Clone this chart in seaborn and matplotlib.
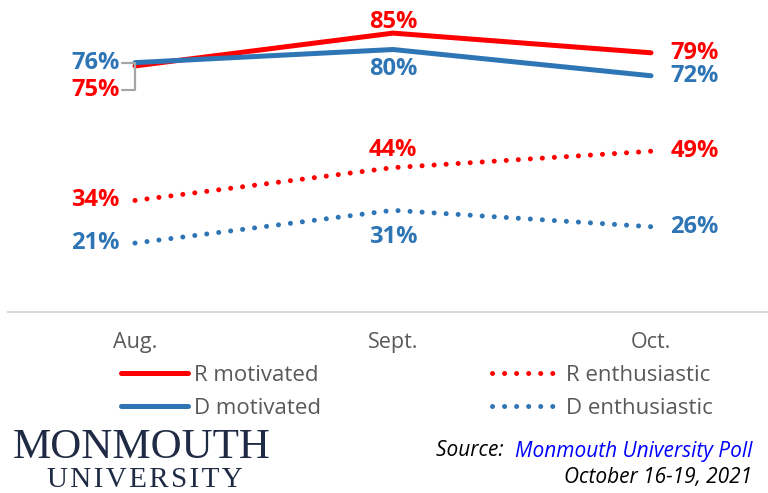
#! /usr/bin/env python3

import matplotlib
matplotlib.use('Agg')

import matplotlib.pyplot as plt
import matplotlib.transforms as mtrans
import numpy as np
import pandas as pd
import seaborn as sns

months = ['Aug.', 'Sept.', 'Oct.']
r_motivated = [75, 85, 79]
d_motivated = [76, 80, 72]
r_enthusiastic = [34, 44, 49]
d_enthusiastic = [21, 31, 26]

RED = '#FF0000'
BLUE = '#2E75B6'
GRAY = '#595959'

series = {
    'R motivated': (r_motivated, RED, '-'),
    'D motivated': (d_motivated, BLUE, '-'),
    'R enthusiastic': (r_enthusiastic, RED, (0, (0.01, 2.4))),
    'D enthusiastic': (d_enthusiastic, BLUE, (0, (0.01, 2.4))),
}

# where the middle (Sept.) label goes, in points relative to the point
mid_offset = {
    'R motivated': 8,
    'D motivated': -14,
    'R enthusiastic': 12.5,
    'D enthusiastic': -19,
}
# left (Aug.) label vertical nudge in points
left_nudge = {'R motivated': -17.5}

rows = []
for name, (vals, _, _) in series.items():
    for i, (m, v) in enumerate(zip(months, vals)):
        rows.append({'series': name, 'pos': i, 'month': m, 'value': v})
data = pd.DataFrame(rows)

sns.set_theme(style='white')
plt.rcParams['font.family'] = ['Open Sans', 'DejaVu Sans']

fig = plt.figure(figsize=(7.68, 4.93), dpi=100)
W, H = 768, 493
ax = fig.add_axes([8 / W, (H - 312) / H, 1 - 8 / W, 311.7 / H])

for name, (vals, color, ls) in series.items():
    sub = data[data['series'] == name]
    sns.lineplot(data=sub, x='pos', y='value', color=color, linestyle=ls,
                 linewidth=3.6, dash_capstyle='round',
                 solid_capstyle='round', ax=ax, sort=False)

ax.set_xlim((8 - 135) / 258, (768 - 135) / 258)
ax.set_ylim(0, 95)
ax.set_xticks(np.arange(len(months)))
ax.set_xticklabels(months, fontsize=15.5, color=GRAY)
ax.set_yticks([])
ax.set_xlabel('')
ax.set_ylabel('')
ax.tick_params(axis='x', length=0, pad=14.5)
for s in ['top', 'left', 'right']:
    ax.spines[s].set_visible(False)
ax.spines['bottom'].set_color('#D9D9D9')
ax.spines['bottom'].set_linewidth(1.5)

# value labels
lab_kw = dict(fontsize=17, fontweight='bold', textcoords='offset points')
for name, (vals, color, _) in series.items():
    ax.annotate(f'{vals[0]}%', (0, vals[0]), xytext=(-11, left_nudge.get(name, 0)),
                ha='right', va='center', color=color, **lab_kw)
    ax.annotate(f'{vals[1]}%', (1, vals[1]), xytext=(0, mid_offset[name]),
                ha='center', va='center', color=color, **lab_kw)
    ax.annotate(f'{vals[2]}%', (2, vals[2]), xytext=(14, 0),
                ha='left', va='center', color=color, **lab_kw)

# leader bracket from line start to the 75% label
px, py = ax.transData.transform((0, d_motivated[0]))
ry = ax.transData.transform((0, r_motivated[0]))[1]
dy = left_nudge['R motivated'] * fig.dpi / 72 + (ry - py)
bx = [px - 13, px, px, px - 13]
by = [py, py, py + dy, py + dy]
fig.add_artist(plt.Line2D(bx, by, color='#A6A6A6', linewidth=1.6,
                          transform=mtrans.IdentityTransform(), zorder=1))

# legend
handles = [plt.Line2D([], [], color=c, linestyle=ls, linewidth=3.6,
                      dash_capstyle='round', solid_capstyle='round')
           for _, (_, c, ls) in series.items()]
leg = fig.legend(handles, list(series.keys()), ncol=2, frameon=False,
                 loc='upper left', bbox_to_anchor=(121 / W, 1 - 365 / H),
                 fontsize=16, handlelength=3.0, handletextpad=0.3,
                 columnspacing=7.7, labelspacing=0.55,
                 borderpad=0, borderaxespad=0)
for t in leg.get_texts():
    t.set_color(GRAY)

# logo
fig.text(13 / W, 1 - 448 / H, 'MONMOUTH', family='Liberation Serif',
         fontsize=31, color='#1F2A44', ha='left', va='center')
fig.text(145 / W, 1 - 480 / H, '\u200a'.join('UNIVERSITY'),
         family=['Liberation Serif', 'DejaVu Serif'],
         fontsize=21, color='#1F2A44', ha='center', va='center')

# source
src = fig.text(752 / W, 1 - 451 / H, 'Monmouth University Poll',
               fontsize=15, style='italic', color='#0000FF',
               ha='right', va='center')
ax.annotate('Source:  ', xy=(0, 0), xycoords=src, ha='right', va='bottom',
            fontsize=15, style='italic', color='black', annotation_clip=False)
fig.text(752 / W, 1 - 477 / H, 'October 16-19, 2021', fontsize=15,
         style='italic', color='black', ha='right', va='center')

fig.savefig('out.png', dpi=100)
